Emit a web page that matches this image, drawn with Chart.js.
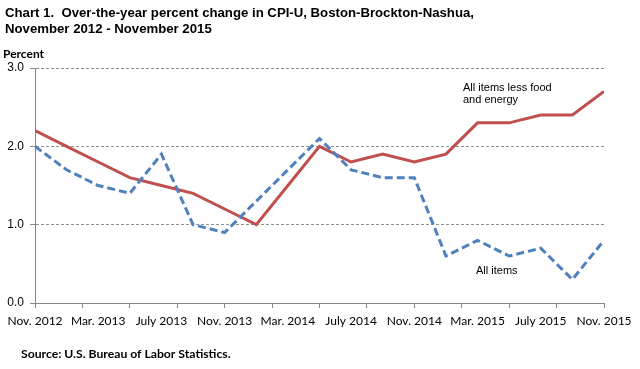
<!DOCTYPE html>
<html>
<head>
<meta charset="utf-8">
<script src="https://cdn.jsdelivr.net/npm/chart.js@4/dist/chart.umd.min.js"></script>
<style>
  html, body { margin: 0; padding: 0; background: #fff; }
  #wrap { width: 640px; height: 369px; position: relative; }
</style>
</head>
<body>
<div id="wrap"><canvas id="c" width="640" height="369"></canvas></div>
<script>
// Periods (bimonthly) and their offset in months from Nov. 2012
const periods = ['Nov 2012','Jan 2013','Mar 2013','May 2013','Jul 2013','Sep 2013','Nov 2013',
                 'Jan 2014','Mar 2014','May 2014','Jul 2014','Sep 2014','Nov 2014',
                 'Jan 2015','Mar 2015','May 2015','Jul 2015','Sep 2015','Nov 2015'];
const monthOffsets = [0,2,4,6,8,10,12,14,16,18,20,22,24,26,28,30,32,34,36];

// Series values (percent)
const allItems =       [2.0,1.7,1.5,1.4,1.9,1.0,0.9,1.3,1.7,2.1,1.7,1.6,1.6,0.6,0.8,0.6,0.7,0.3,0.8];
const lessFoodEnergy = [2.2,2.0,1.8,1.6,1.5,1.4,1.2,1.0,1.5,2.0,1.8,1.9,1.8,1.9,2.3,2.3,2.4,2.4,2.7];

// Axis tick labels
const xTickLabels = ['Nov. 2012','Mar. 2013','July 2013','Nov. 2013','Mar. 2014',
                     'July 2014','Nov. 2014','Mar. 2015','July 2015','Nov. 2015'];
const xLabelEvery = 4;   // months between labels
const xTickEvery = 3;    // months between tick marks
const yTicks = [0, 1, 2, 3];

const toPoints = (vals) => vals.map((v, i) => ({ x: monthOffsets[i], y: v }));

const textPlugin = {
  id: 'texts',
  afterDraw(chart) {
    const ctx = chart.ctx;
    ctx.save();
    ctx.fillStyle = '#000';
    ctx.textBaseline = 'middle';
    ctx.textAlign = 'left';
    ctx.font = 'bold 13.2px "Liberation Sans Narrow", "Arial Narrow", sans-serif';
    ctx.fillText('Chart 1.  Over-the-year percent change in CPI-U, Boston-Brockton-Nashua,', 5, 13);
    ctx.fillText('November 2012 - November 2015', 5, 29);
    ctx.font = 'bold 12px Lato, sans-serif';
    ctx.fillText('Percent', 3, 54);
    ctx.font = '11px "Liberation Sans", Arial, sans-serif';
    ctx.fillText('All items less food', 463, 88);
    ctx.fillText('and energy', 463, 100);
    ctx.fillText('All items', 476, 271);
    ctx.font = 'bold 12.2px Lato, sans-serif';
    ctx.fillText('Source: U.S. Bureau of Labor Statistics.', 21, 354);
    ctx.restore();
  }
};

new Chart(document.getElementById('c'), {
  type: 'line',
  data: {
    datasets: [
      {
        label: 'All items',
        data: toPoints(allItems),
        borderColor: '#4F81BD',
        borderWidth: 3,
        borderDash: [8, 4],
        borderCapStyle: 'butt',
        pointRadius: 0,
        tension: 0,
        fill: false
      },
      {
        label: 'All items less food and energy',
        data: toPoints(lessFoodEnergy),
        borderColor: '#C0504D',
        borderWidth: 3,
        pointRadius: 0,
        tension: 0,
        fill: false
      }
    ]
  },
  options: {
    responsive: false,
    animation: false,
    events: [],
    layout: { padding: { top: 68, right: 36, left: 0, bottom: 0 } },
    plugins: { legend: { display: false }, title: { display: false }, tooltip: { enabled: false } },
    scales: {
      x: {
        type: 'linear',
        min: 0,
        max: 36,
        afterFit(scale) { scale.height = 66; },
        afterBuildTicks(scale) {
          const t = [];
          for (let m = 0; m <= 36; m++) {
            if (m % xLabelEvery === 0 || m % xTickEvery === 0) t.push({ value: m });
          }
          scale.ticks = t;
        },
        border: { display: true, color: '#868686', width: 1 },
        grid: {
          drawOnChartArea: false,
          drawTicks: true,
          tickLength: 5,
          tickWidth: 1,
          tickColor: (ctx) => (ctx.tick && ctx.tick.value % xTickEvery === 0) ? '#868686' : 'rgba(0,0,0,0)'
        },
        ticks: {
          autoSkip: false,
          maxRotation: 0,
          minRotation: 0,
          padding: 6,
          color: '#000',
          font: { family: 'Lato, sans-serif', size: 12 },
          callback: (v) => (v % xLabelEvery === 0) ? xTickLabels[v / xLabelEvery] : ''
        }
      },
      y: {
        min: 0,
        max: 3,
        afterFit(scale) { scale.width = 35; },
        afterBuildTicks(scale) { scale.ticks = yTicks.map(v => ({ value: v })); },
        border: { display: true, color: '#868686', width: 1, dash: [3, 2] },
        grid: {
          drawOnChartArea: true,
          color: (ctx) => (ctx.tick && ctx.tick.value === 0) ? 'rgba(0,0,0,0)' : '#8a948a',
          tickBorderDash: [],
          tickColor: '#868686',
          tickLength: 5,
          lineWidth: 1
        },
        ticks: {
          padding: 6,
          color: '#000',
          font: { family: '"Liberation Sans", Arial, sans-serif', size: 12 },
          callback: (v) => v.toFixed(1)
        }
      }
    }
  },
  plugins: [textPlugin]
});
</script>
</body>
</html>
